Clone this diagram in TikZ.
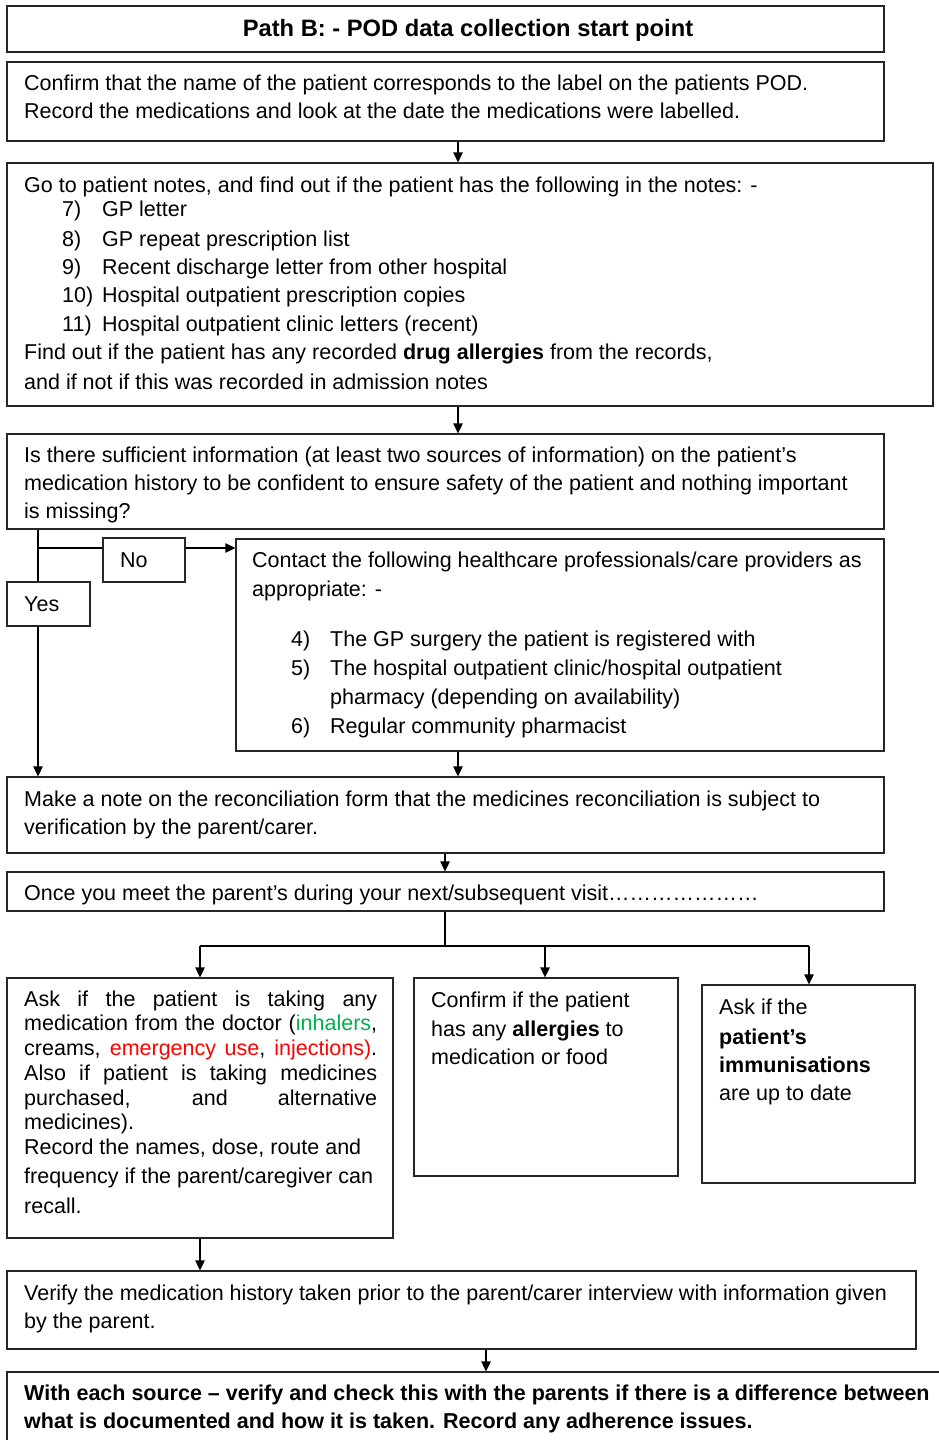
\documentclass[tikz,border=0pt]{standalone}
\usepackage{fontspec}
\setmainfont{Liberation Sans}
\usetikzlibrary{arrows.meta,fit}
\definecolor{grn}{RGB}{0,176,80}
\definecolor{rd}{RGB}{255,0,0}
\begin{document}
\begin{tikzpicture}[x=1pt,y=-1pt,
  box/.style={draw=black!85,line width=1.3pt,inner sep=0pt},
  txt/.style={anchor=base west,inner sep=0pt,font=\fontsize{21.5}{26}\selectfont},
  ttl/.style={anchor=base,inner sep=0pt,font=\bfseries\fontsize{23.7}{28}\selectfont},
  arr/.style={line width=1.3pt,-{Triangle[length=10pt,width=9.5pt]}},
  ln/.style={line width=1.3pt}]
\useasboundingbox (0,0) rectangle (939,1440);
\clip (0,0) rectangle (939,1440);
\fill[white] (0,0) rectangle (939,1440);
% boxes
\node[box,fit={(7,6) (884,52)}] (b1) {};
\node[box,fit={(7,62) (884,141)}] (b2) {};
\node[box,fit={(7,163) (933,406)}] (b3) {};
\node[box,fit={(7,434) (884,529)}] (b4) {};
\node[box,fit={(103,538) (185,582)}] (no) {};
\node[box,fit={(7,582) (90,626)}] (yes) {};
\node[box,fit={(236,539) (884,751)}] (b5) {};
\node[box,fit={(7,777) (884,853)}] (b6) {};
\node[box,fit={(7,872) (884,911)}] (b7) {};
\node[box,fit={(7,978) (393,1238)}] (b8) {};
\node[box,fit={(414,978) (678,1176)}] (b9) {};
\node[box,fit={(702,985) (915,1183)}] (b10) {};
\node[box,fit={(7,1271) (916,1349)}] (b11) {};
\node[box,fit={(7,1372) (950,1460)}] (b12) {};
% texts
\node[ttl] (t1) at (468,36) {Path B: - POD data collection start point};
\node[txt] (t2a) at (24,90) {Confirm that the name of the patient corresponds to the label on the patients POD.};
\node[txt] (t2b) at (24,118) {Record the medications and look at the date the medications were labelled.};
\node[txt] (t3a) at (24,192) {Go to patient notes, and find out if the patient has the following in the notes: -};
\node[txt] (t3n1) at (62,216) {7)};  \node[txt] (t3i1) at (102,216) {GP letter};
\node[txt] (t3n2) at (62,246) {8)};  \node[txt] (t3i2) at (102,246) {GP repeat prescription list};
\node[txt] (t3n3) at (62,274) {9)};  \node[txt] (t3i3) at (102,274) {Recent discharge letter from other hospital};
\node[txt] (t3n4) at (62,302) {10)}; \node[txt] (t3i4) at (102,302) {Hospital outpatient prescription copies};
\node[txt] (t3n5) at (62,331) {11)}; \node[txt] (t3i5) at (102,331) {Hospital outpatient clinic letters (recent)};
\node[txt] (t3b) at (24,359) {Find out if the patient has any recorded \textbf{drug allergies} from the records,};
\node[txt] (t3c) at (24,389) {and if not if this was recorded in admission notes};
\node[txt] (t4a) at (24,462) {Is there sufficient information (at least two sources of information) on the patient’s};
\node[txt] (t4b) at (24,490) {medication history to be confident to ensure safety of the patient and nothing important};
\node[txt] (t4c) at (24,518) {is missing?};
\node[txt] (tno) at (120,567) {No};
\node[txt] (tyes) at (24,611) {Yes};
\node[txt] (t5a) at (252,567) {Contact the following healthcare professionals/care providers as};
\node[txt] (t5b) at (252,596) {appropriate: -};
\node[txt] (t5n1) at (291,646) {4)}; \node[txt] (t5i1) at (330,646) {The GP surgery the patient is registered with};
\node[txt] (t5n2) at (291,675) {5)}; \node[txt] (t5i2) at (330,675) {The hospital outpatient clinic/hospital outpatient};
\node[txt] (t5i2b) at (330,704) {pharmacy (depending on availability)};
\node[txt] (t5n3) at (291,733) {6)}; \node[txt] (t5i3) at (330,733) {Regular community pharmacist};
\node[txt] (t6a) at (24,806) {Make a note on the reconciliation form that the medicines reconciliation is subject to};
\node[txt] (t6b) at (24,834) {verification by the parent/carer.};
\node[txt] (t7) at (24,900) {Once you meet the parent’s during your next/subsequent visit…………………};
\node[txt] (t8a) at (24,1006) {\makebox[353pt][s]{Ask if the patient is taking any}};
\node[txt] (t8b) at (24,1030) {\makebox[353pt][s]{medication from the doctor (\textcolor{grn}{inhalers},}};
\node[txt] (t8c) at (24,1055) {\makebox[353pt][s]{creams, \textcolor{rd}{emergency use}, \textcolor{rd}{injections)}.}};
\node[txt] (t8d) at (24,1080) {\makebox[353pt][s]{Also if patient is taking medicines}};
\node[txt] (t8e) at (24,1105) {\makebox[353pt][s]{purchased, and alternative}};
\node[txt] (t8f) at (24,1129) {medicines).};
\node[txt] (t8g) at (24,1154) {Record the names, dose, route and};
\node[txt] (t8h) at (24,1183) {frequency if the parent/caregiver can};
\node[txt] (t8i) at (24,1213) {recall.};
\node[txt] (t9a) at (431,1007) {Confirm if the patient};
\node[txt] (t9b) at (431,1036) {has any \textbf{allergies} to};
\node[txt] (t9c) at (431,1064) {medication or food};
\node[txt] (t10a) at (719,1014) {Ask if the};
\node[txt] (t10b) at (719,1044) {\textbf{patient’s}};
\node[txt] (t10c) at (719,1072) {\textbf{immunisations}};
\node[txt] (t10d) at (719,1100) {are up to date};
\node[txt] (t11a) at (24,1300) {Verify the medication history taken prior to the parent/carer interview with information given};
\node[txt] (t11b) at (24,1328) {by the parent.};
\node[txt,font=\bfseries\fontsize{21.5}{26}\selectfont] (t12a) at (24,1400) {With each source – verify and check this with the parents if there is a difference between};
\node[txt,font=\bfseries\fontsize{21.5}{26}\selectfont] (t12b) at (24,1428) {what is documented and how it is taken. Record any adherence issues.};
% helper coordinates
\coordinate (c458) at (458,0);
\coordinate (c38) at (38,0);
\coordinate (c445) at (445,0);
\coordinate (c200) at (200,0);
\coordinate (c545) at (545,0);
\coordinate (c809) at (809,0);
\coordinate (c486) at (486,0);
\coordinate (r548) at (0,548);
\coordinate (r946) at (0,946);
% connectors
\draw[arr] (b2.south -| c458) -- (b3.north -| c458);
\draw[arr] (b3.south -| c458) -- (b4.north -| c458);
\draw[ln] (b4.south -| c38) -- (yes.north -| c38);
\draw[arr] (yes.south -| c38) -- (b6.north -| c38);
\draw[ln] (c38 |- r548) -- (no.west |- r548);
\draw[arr] (no.east |- r548) -- (b5.west |- r548);
\draw[arr] (b5.south -| c458) -- (b6.north -| c458);
\draw[arr] (b6.south -| c445) -- (b7.north -| c445);
\draw[ln] (b7.south -| c445) -- (c445 |- r946);
\draw[ln] (c200 |- r946) -- (c809 |- r946);
\draw[arr] (c200 |- r946) -- (b8.north -| c200);
\draw[arr] (c545 |- r946) -- (b9.north -| c545);
\draw[arr] (c809 |- r946) -- (b10.north -| c809);
\draw[arr] (b8.south -| c200) -- (b11.north -| c200);
\draw[arr] (b11.south -| c486) -- (b12.north -| c486);
\end{tikzpicture}
\end{document}
